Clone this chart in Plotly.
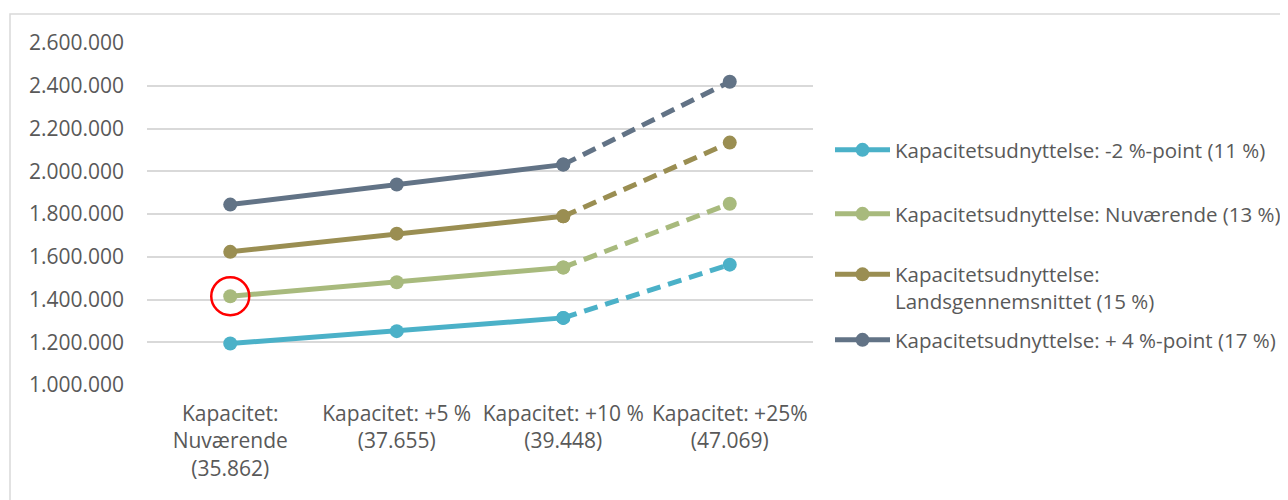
import plotly.graph_objects as go

categories = [
    "Kapacitet:<br>Nuværende<br>(35.862)",
    "Kapacitet: +5 %<br>(37.655)",
    "Kapacitet: +10 %<br>(39.448)",
    "Kapacitet: +25%<br>(47.069)",
]
series_names = [
    "Kapacitetsudnyttelse: -2 %-point (11 %)",
    "Kapacitetsudnyttelse: Nuværende (13 %)",
    "Kapacitetsudnyttelse:<br>Landsgennemsnittet (15 %)",
    "Kapacitetsudnyttelse: + 4 %-point (17 %)",
]
s_minus2 = [1194000, 1252000, 1314000, 1563000]
s_current = [1415000, 1481000, 1550000, 1848000]
s_national = [1623000, 1708000, 1789000, 2134000]
s_plus4 = [1844000, 1938000, 2031000, 2419000]
series_values = [s_minus2, s_current, s_national, s_plus4]
colors = ["#4BB1C8", "#A8BA7D", "#9A8E52", "#627386"]
y_ticks = [1000000, 1200000, 1400000, 1600000, 1800000, 2000000, 2200000, 2400000, 2600000]

W, H = 1288, 500
OFF = 8  # page body margin
pw, ph = 666, 342
L, T = 147 - OFF, 43 - OFF
R, B = W - L - pw, H - T - ph

def px_x(p):
    return (p - OFF - L) / pw

def px_y(p):
    return (H - B - (p - OFF)) / ph

legend_ids = ["legend", "legend2", "legend3", "legend4"]
legend_y_px = [150, 214, 288, 340]

fig = go.Figure()
for i, (name, vals, col) in enumerate(zip(series_names, series_values, colors)):
    fig.add_trace(go.Scatter(
        x=categories[:3], y=vals[:3], mode="lines+markers", name=name,
        line=dict(color=col, width=5), marker=dict(color=col, size=14),
        legend=legend_ids[i], showlegend=True, hoverinfo="skip",
    ))
    fig.add_trace(go.Scatter(
        x=categories[2:], y=vals[2:], mode="lines+markers", name=name,
        line=dict(color=col, width=5, dash="14px,8px"),
        marker=dict(color=col, size=14),
        showlegend=False, hoverinfo="skip",
    ))

font_family = "Open Sans"
text_color = "#595959"

layout_legends = {}
for i, lid in enumerate(legend_ids):
    layout_legends[lid] = dict(
        x=px_x(830), xanchor="left",
        y=px_y(legend_y_px[i]), yanchor="middle",
        font=dict(family=font_family, size=20.5, color=text_color),
        bgcolor="rgba(0,0,0,0)", borderwidth=0,
        itemwidth=55, valign="top",
    )

fig.update_layout(
    width=W, height=H,
    margin=dict(l=L, r=R, t=T, b=B, autoexpand=False),
    paper_bgcolor="white", plot_bgcolor="white",
    separators=",.",
    xaxis=dict(
        type="category", categoryorder="array", categoryarray=categories,
        range=[-0.5, 3.5], showgrid=False, showline=False,
        zeroline=False, ticks="", ticklabelstandoff=14,
        tickfont=dict(family=font_family, size=21, color=text_color),
    ),
    yaxis=dict(
        range=[1000000, 2600000], tickvals=y_ticks, tickformat=",d",
        showgrid=True, gridcolor="#D9D9D9", gridwidth=1.5,
        zeroline=False, showline=False, ticks="", ticklabelstandoff=22,
        tickfont=dict(family=font_family, size=21, color=text_color),
    ),
    shapes=[
        dict(type="rect", xref="paper", yref="paper",
             x0=px_x(10), x1=px_x(1300), y0=px_y(14), y1=px_y(515),
             line=dict(color="#D9D9D9", width=1.5), fillcolor="rgba(0,0,0,0)", layer="below"),
        dict(type="circle", xref="x", yref="y", xsizemode="pixel", ysizemode="pixel",
             xanchor=categories[0], yanchor=s_current[0],
             x0=-19, x1=19, y0=-19, y1=19,
             line=dict(color="#FF0000", width=2.5), fillcolor="rgba(0,0,0,0)"),
    ],
    showlegend=True,
    **layout_legends,
)

fig.write_html("out.html")
